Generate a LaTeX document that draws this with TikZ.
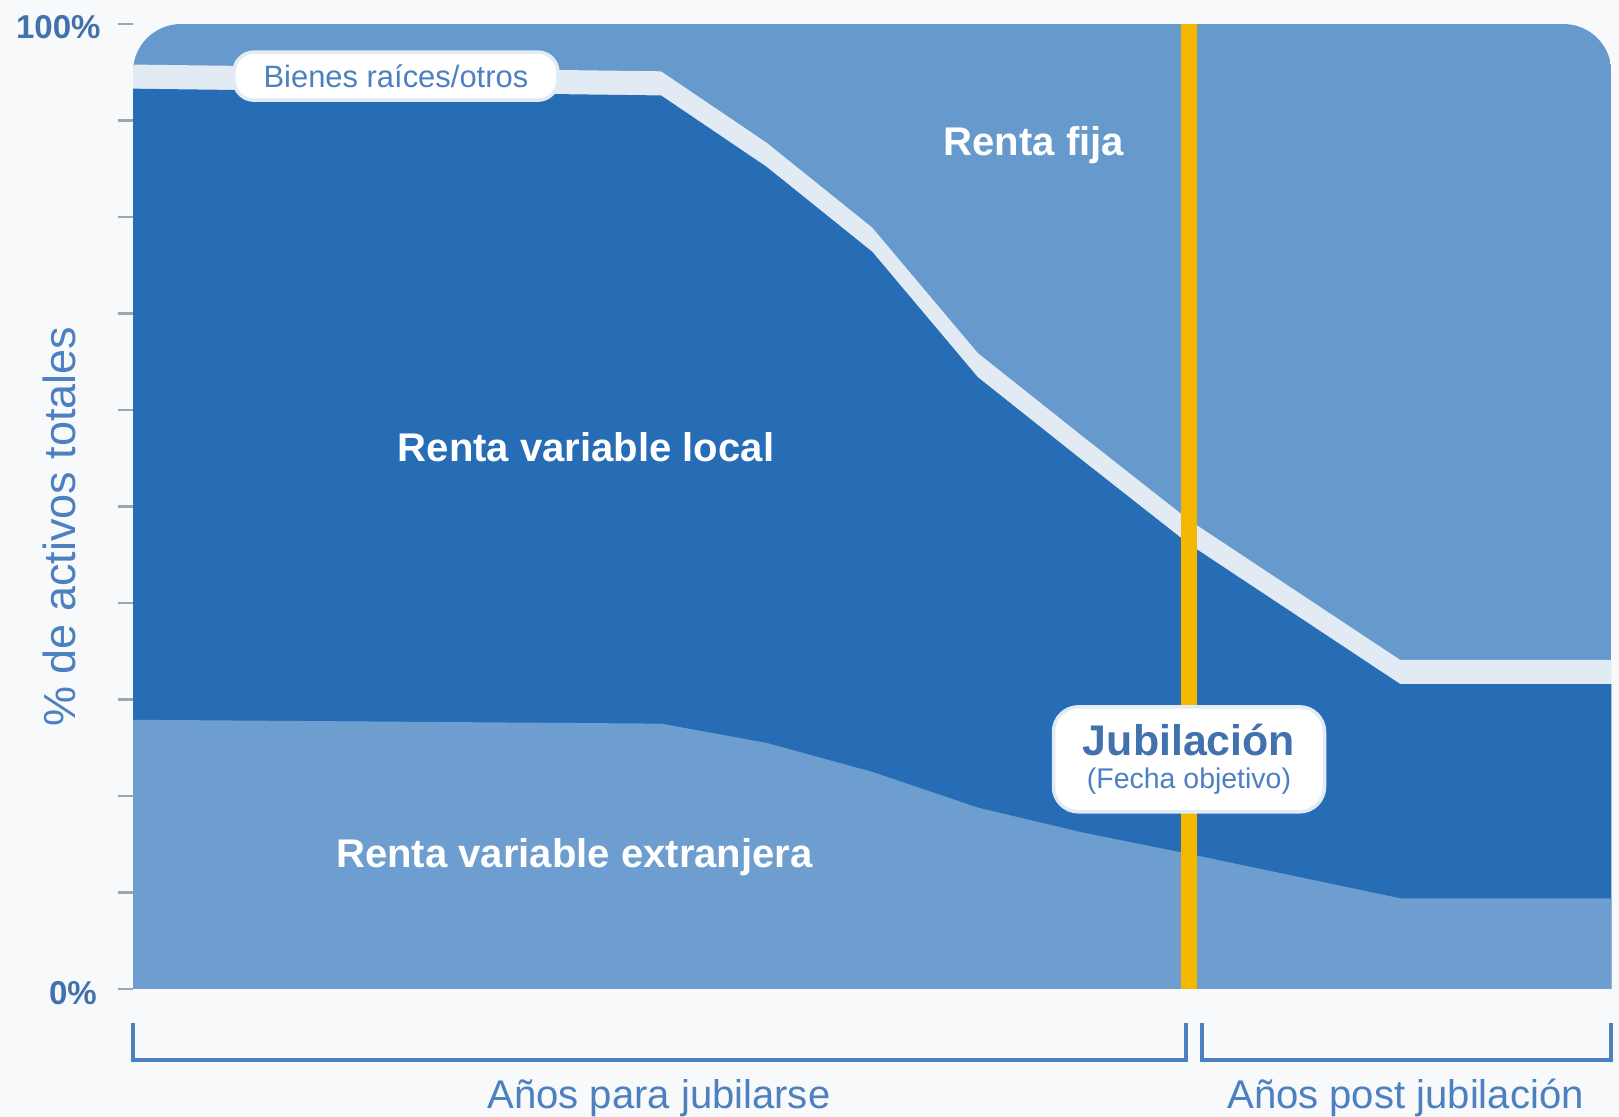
\documentclass[tikz,border=0pt]{standalone}
\usepackage{fontspec}
\setmainfont{Liberation Sans}
\usetikzlibrary{positioning}

\definecolor{bgc}{HTML}{F8F9FB}
\definecolor{fijac}{HTML}{6699CC}
\definecolor{localc}{HTML}{266DB6}
\definecolor{extc}{HTML}{6E9DCF}
\definecolor{bandc}{HTML}{E2EAF4}
\definecolor{jubc}{HTML}{F5B800}
\definecolor{axisc}{HTML}{4272AE}
\definecolor{titlec}{HTML}{4D80C0}
\definecolor{tickc}{HTML}{9AA6B6}

\begin{document}
\begin{tikzpicture}[x=1.056cm, y=0.0965cm,
    regionlabel/.style={text=white, font=\bfseries\fontsize{11.4}{13}\selectfont},
    pctlabel/.style={anchor=east, text=axisc, font=\bfseries\fontsize{9.4}{11}\selectfont},
    spanlabel/.style={text=titlec, font=\fontsize{11.4}{13}\selectfont},
    pilltag/.style={fill=white, draw=bandc, line width=1pt, inner sep=0pt},
    tickline/.style={draw=tickc, line width=0.6pt},
    bracketline/.style={draw=titlec, line width=1.1pt}]
            \path[use as bounding box, fill=bgc] (-1.33cm,-1.28cm) rectangle (14.86cm,9.89cm);

            % stacked areas, clipped to the rounded chart outline
            \begin{scope}
                \clip (0,0) -- (0,50) [rounded corners=0.48cm] -- (0,100) -- (14,100) -- (14,50) [sharp corners] -- (14,0) -- cycle;
                \fill[fijac] (0,0) rectangle (14,100);
                \fill[bandc] (0,0) -- (0,95.8) -- (5,95.1) -- (6,87.7) -- (7,78.9) -- (8,65.9) -- (9,57.2) -- (10,48.6) -- (12,34.1) -- (14,34.1) -- (14,0) -- cycle;
                \fill[localc] (0,0) -- (0,93.3) -- (5,92.6) -- (6,85.2) -- (7,76.4) -- (8,63.4) -- (9,54.7) -- (10,46.1) -- (12,31.6) -- (14,31.6) -- (14,0) -- cycle;
                \fill[extc] (0,0) -- (0,27.9) -- (5,27.5) -- (6,25.5) -- (7,22.5) -- (8,18.8) -- (9,16.2) -- (10,14.0) -- (12,9.4) -- (14,9.4) -- (14,0) -- cycle;
            \end{scope}

            \foreach \p in {0,10,...,100}
                \draw[tickline] (-0.145,\p) -- (0,\p);

            % retirement date
            \coordinate (jtop) at (10,100);
            \coordinate (jbot) at (10,0);
            \draw[jubc, line width=0.16cm] (jbot) -- (jtop);
            \node[pilltag, minimum width=2.71cm, minimum height=1.05cm, rounded corners=0.25cm, align=center] (jubi) at (10,23.8)
                {{\bfseries\fontsize{12.2}{14}\selectfont\color{axisc}Jubilación}\\[-2.4pt]{\fontsize{8.1}{10.2}\selectfont\color{titlec}(Fecha objetivo)}};

            \node[pilltag, minimum width=3.24cm, minimum height=0.48cm, rounded corners=0.2cm, text=titlec, font=\fontsize{8.8}{10}\selectfont] (bienes) at (2.49,94.6) {Bienes raíces/otros};

            \node[regionlabel] (fija) at (8.53,87.5) {Renta fija};
            \node[regionlabel] (local) at (4.29,56.2) {Renta variable local};
            \node[regionlabel] (ext) at (4.18,13.7) {Renta variable extranjera};

            \node[pctlabel] (p100) at (-0.19,99.7) {100\%};
            \node[pctlabel] (p0) at (-0.225,-0.4) {0\%};
            \node[rotate=90, text=titlec, font=\fontsize{12.8}{14}\selectfont] (ytitle) at (-0.70,47.9) {\% de activos totales};

            % time brackets
            \draw[bracketline] (0,-3.5) |- (9.97,-7.35) -- (9.97,-3.5);
            \draw[bracketline] (10.12,-3.5) |- (14,-7.35) -- (14,-3.5);
            \coordinate (premid) at (4.98,-7.35);
            \coordinate (postmid) at (12.05,-7.35);
            \node[spanlabel, below=0.07cm of premid] (pre) {Años para jubilarse};
            \node[spanlabel, below=0.07cm of postmid] (post) {Años post jubilación};
        \end{tikzpicture}
\end{document}
